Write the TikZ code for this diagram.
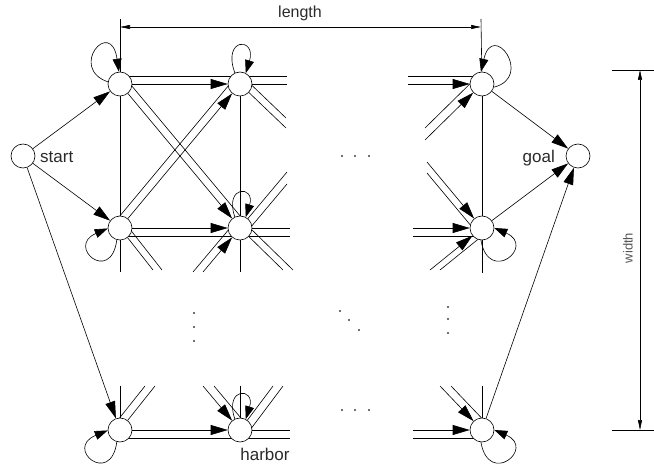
\documentclass[tikz,border=0pt]{standalone}
\usepackage{fontspec}
\setmainfont{Liberation Sans}
\usetikzlibrary{arrows.meta,calc}
\pgfdeclarelayer{bg}
\pgfsetlayers{bg,main}
\definecolor{labelc}{HTML}{2A2A2A}
\definecolor{dimc}{HTML}{555555}
\definecolor{dotc}{HTML}{404040}
\begin{document}
\begin{tikzpicture}[x=1pt,y=-1pt,
  st/.style={circle,draw,fill=white,minimum size=24pt,inner sep=0pt,line width=0.6pt},
  ln/.style={line width=0.6pt},
  arr/.style={line width=0.6pt,-{Triangle[length=17pt,width=10pt]}},
  loopa/.style={line width=0.6pt,-{Triangle[length=13pt,width=9pt]}},
  dimarr/.style={line width=0.6pt,{Triangle[length=10pt,width=4pt]}-{Triangle[length=10pt,width=4pt]}},
  lbl/.style={font=\fontsize{17}{20}\selectfont,text=labelc,inner sep=0pt}]
\useasboundingbox (0,0) rectangle (654,465);
% states
\node[st] (S) at (23,156) {};
\node[st] (G) at (578,156) {};
\node[st] (A1) at (120,84) {};
\node[st] (A2) at (240,84) {};
\node[st] (A3) at (482,84) {};
\node[st] (B1) at (120,228) {};
\node[st] (B2) at (240,228) {};
\node[st] (B3) at (482,228) {};
\node[st] (C1) at (120,430) {};
\node[st] (C2) at (240,430) {};
\node[st] (C3) at (482,430) {};
% free ends
\coordinate (hA2r) at (287,84);  \coordinate (hA3l) at (408,84);
\coordinate (hB2r) at (290,228); \coordinate (hB3l) at (413,228);
\coordinate (hC2r) at (290,430); \coordinate (hC3l) at (413,430);
\coordinate (vB1d) at (120,272); \coordinate (vC1u) at (120,386);
\coordinate (vB2d) at (240,272); \coordinate (vC2u) at (240,386);
\coordinate (vB3d) at (482,273); \coordinate (vC3u) at (482,386);
\coordinate (dA2) at (286,128);
\coordinate (dA3) at (425,140);
\coordinate (dB1) at (153,270);
\coordinate (dB2dl) at (203,272);
\coordinate (dB2dr) at (283,270);
\coordinate (dB2ur) at (287,172);
\coordinate (dB3ul) at (427,162);
\coordinate (dB3ll) at (430,270);
\coordinate (dC1) at (155,386);
\coordinate (dC2ul) at (203,386);
\coordinate (dC2ur) at (273,386);
\coordinate (dC3ul) at (440,386);
\coordinate (LenL) at (120,19); \coordinate (LenR) at (481,19);
\coordinate (LenA) at (120,27); \coordinate (LenB) at (481,27);
\coordinate (WidT) at (640,70); \coordinate (WidB) at (640,430);
\coordinate (WtL) at (612,70); \coordinate (WtR) at (654,70);
\coordinate (WbL) at (612,430); \coordinate (WbR) at (654,430);
\begin{pgfonlayer}{bg}
% horizontal pairs
\draw[ln] ($(A1)+(0,-8)$) -- ($(hA2r)+(0,-8)$);
\draw[ln] (A2) -- (hA2r);
\draw[ln] ($(hA3l)+(0,-8)$) -- ($(A3)+(0,-8)$);
\draw[ln] ($(B1)+(0,8)$) -- ($(hB2r)+(0,8)$);
\draw[ln] (B2) -- (hB2r);
\draw[ln] ($(hB3l)+(0,8)$) -- ($(B3)+(0,8)$);
\draw[ln] ($(C1)+(0,8)$) -- ($(hC2r)+(0,8)$);
\draw[ln] (C2) -- (hC2r);
\draw[ln] ($(hC3l)+(0,8)$) -- ($(C3)+(0,8)$);
% verticals
\draw[ln] (A1) -- (B1) -- (vB1d);
\draw[ln] (vC1u) -- (C1);
\draw[ln] (A2) -- (B2) -- (vB2d);
\draw[ln] (vC2u) -- (C2);
\draw[ln] (A3) -- (B3) -- (vB3d);
\draw[ln] (vC3u) -- (C3);
% diagonal pairs
\draw[ln] ($(A1)+(6,-5)$) -- ($(B2)+(6,-5)$);
\draw[ln] ($(B1)+(-6,-5)$) -- ($(A2)+(-6,-5)$);
\draw[ln] (A2) -- (dA2);
\draw[ln] ($(A2)+(0,-10)$) -- ($(dA2)+(0,-10)$);
\draw[ln] ($(dA3)+(0,-12)$) -- ($(A3)+(0,-12)$);
\draw[ln] (B1) -- (dB1);
\draw[ln] ($(B1)+(9,0)$) -- ($(dB1)+(9,0)$);
\draw[ln] ($(dB2dl)+(-10,0)$) -- ($(B2)+(-10,0)$);
\draw[ln] (B2) -- (dB2dr);
\draw[ln] ($(B2)+(10,0)$) -- ($(dB2dr)+(10,0)$);
\draw[ln] (B2) -- (dB2ur);
\draw[ln] ($(B2)+(0,12)$) -- ($(dB2ur)+(0,12)$);
\draw[ln] ($(dB3ul)+(0,11)$) -- ($(B3)+(0,11)$);
\draw[ln] ($(dB3ll)+(10,0)$) -- ($(B3)+(10,0)$);
\draw[ln] (C1) -- (dC1);
\draw[ln] ($(C1)+(-10,0)$) -- ($(dC1)+(-10,0)$);
\draw[ln] ($(dC2ul)+(11,0)$) -- ($(C2)+(11,0)$);
\draw[ln] (C2) -- (dC2ur);
\draw[ln] ($(C2)+(10,0)$) -- ($(dC2ur)+(10,0)$);
\draw[ln] ($(dC3ul)+(11,0)$) -- ($(C3)+(11,0)$);
\end{pgfonlayer}
% arrows between states
\draw[arr] (S) -- (A1);
\draw[arr] (S) -- (B1);
\draw[arr] (S) -- (C1);
\draw[arr] (A3) -- (G);
\draw[arr] (B3) -- (G);
\draw[arr] (C3) -- (G);
\draw[arr] (A1) -- (A2);
\draw[arr] (hA3l) -- (A3);
\draw[arr] (B1) -- (B2);
\draw[arr] (hB3l) -- (B3);
\draw[arr] (C1) -- (C2);
\draw[arr] (hC3l) -- (C3);
\draw[arr] (A1) -- (B2);
\draw[arr] (B1) -- (A2);
\draw[arr] (dA3) -- (A3);
\draw[arr] (dB2dl) -- (B2);
\draw[arr] (dB3ul) -- (B3);
\draw[arr] (dB3ll) -- (B3);
\draw[arr] (dC2ul) -- (C2);
\draw[arr] (dC3ul) -- (C3);
% self loops
\draw[loopa] (A1.170) .. controls +(-40,-14) and +(-8,-55) .. (A1.95);
\draw[loopa] (A2.115) .. controls +(-13,-36) and +(11,-36) .. (A2.62);
\draw[loopa] (A3.345) .. controls +(40,-10) and +(12,-52) .. (A3.95);
\draw[loopa] (B1.255) .. controls +(-6,45) and +(-42,18) .. (B1.182);
\draw[loopa] (B2.115) .. controls +(-11,-32) and +(10,-32) .. (B2.62);
\draw[loopa] (B3.265) .. controls +(8,45) and +(42,18) .. (B3.0);
\draw[loopa] (C1.255) .. controls +(-6,45) and +(-44,18) .. (C1.182);
\draw[loopa] (C2.115) .. controls +(-11,-32) and +(10,-32) .. (C2.62);
\draw[loopa] (C3.265) .. controls +(8,45) and +(42,18) .. (C3.0);
% dimensions
\draw[ln] (LenL) -- (A1);
\draw[ln] (LenR) -- (A3);
\draw[dimarr] (LenA) -- (LenB);
\draw[ln] (WtL) -- (WtR);
\draw[ln] (WbL) -- (WbR);
\draw[dimarr] (WidT) -- (WidB);
% labels
\node[lbl,anchor=base west] (tstart) at (40,163) {start};
\node[lbl,anchor=base east] (tgoal) at (555,163) {goal};
\node[lbl,anchor=base] (tharbor) at (265,460) {harbor};
\node[lbl,anchor=base,font=\fontsize{16}{18}\selectfont] (tlength) at (300,18) {length};
\node[rotate=90,text=dimc,inner sep=0pt,font=\fontsize{13}{15}\selectfont] (twidth) at (628,248) {width};
% ellipses
\foreach \p in {(342,156),(355,156),(369,156),(342,410),(355,410),(369,410),
  (340,311),(349,320),(359,330),(194,313),(194,327),(194,341),(448,307),(448,319),(448,333)}
  \fill[dotc] \p circle (1.1);
\end{tikzpicture}
\end{document}
